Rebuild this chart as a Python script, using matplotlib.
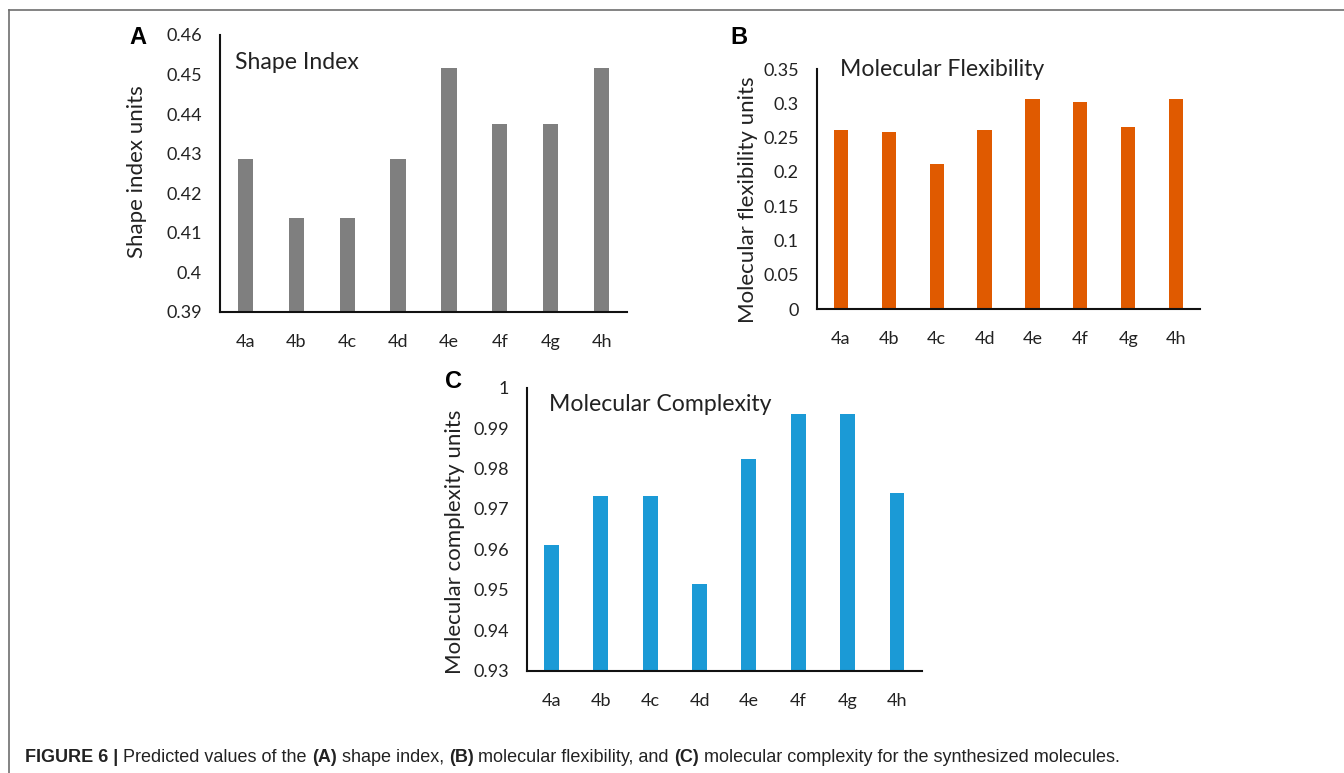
import matplotlib
matplotlib.use("Agg")
import matplotlib.pyplot as plt
from matplotlib.lines import Line2D

# data
compounds = ["4a", "4b", "4c", "4d", "4e", "4f", "4g", "4h"]
shape_index = [0.4286, 0.4138, 0.4138, 0.4286, 0.4516, 0.4375, 0.4375, 0.4516]
flexibility = [0.2615, 0.2577, 0.2119, 0.2615, 0.3063, 0.3019, 0.2650, 0.3063]
complexity = [0.9610, 0.9733, 0.9733, 0.9515, 0.9823, 0.9936, 0.9936, 0.9740]

ticks_a = [0.39, 0.40, 0.41, 0.42, 0.43, 0.44, 0.45, 0.46]
ticklabels_a = ["0.39", "0.4", "0.41", "0.42", "0.43", "0.44", "0.45", "0.46"]
ticks_b = [0, 0.05, 0.1, 0.15, 0.2, 0.25, 0.3, 0.35]
ticklabels_b = ["0", "0.05", "0.1", "0.15", "0.2", "0.25", "0.3", "0.35"]
ticks_c = [0.93, 0.94, 0.95, 0.96, 0.97, 0.98, 0.99, 1.0]
ticklabels_c = ["0.93", "0.94", "0.95", "0.96", "0.97", "0.98", "0.99", "1"]

W, H = 1344, 773
fig = plt.figure(figsize=(W / 100, H / 100), dpi=100)
fig.patch.set_facecolor("white")

FONT = "Lato"


def panel(rect, values, color, ticks, ticklabels, ylabel, title, title_xy, ylab_xy):
    ax = fig.add_axes(rect)
    x = range(len(compounds))
    ax.bar(x, values, width=0.3, color=color, zorder=2)
    ax.set_xlim(-0.5, len(compounds) - 0.5)
    ax.set_ylim(ticks[0], ticks[-1])
    ax.set_xticks(list(x))
    ax.set_xticklabels(compounds, fontfamily=FONT, fontsize=13, color="#222222")
    ax.set_yticks(ticks)
    ax.set_yticklabels(ticklabels, fontfamily=FONT, fontsize=13, color="#222222")
    ax.tick_params(axis="x", length=0, pad=16)
    ax.tick_params(axis="y", length=0, pad=13)
    for s in ["top", "right"]:
        ax.spines[s].set_visible(False)
    for s in ["left", "bottom"]:
        ax.spines[s].set_linewidth(1.5)
        ax.spines[s].set_color("#111111")
    ax.set_ylabel(ylabel, fontfamily=FONT, fontsize=16, color="#222222")
    ax.yaxis.set_label_coords(*ylab_xy)
    ax.text(title_xy[0], title_xy[1], title, transform=ax.transAxes,
            fontfamily=FONT, fontsize=16.6, color="#222222", ha="left", va="center")
    return ax


panel([220 / W, 1 - 312 / H, 407 / W, 277 / H], shape_index, "#7f7f7f",
      ticks_a, ticklabels_a, "Shape index units", "Shape Index",
      (0.037, 0.899), (-0.179, 0.505))
panel([817 / W, 1 - 309 / H, 383 / W, 240 / H], flexibility, "#e05a00",
      ticks_b, ticklabels_b, "Molecular flexibility units", "Molecular Flexibility",
      (0.060, 0.996), (-0.154, 0.454))
panel([526.7 / W, 1 - 670.7 / H, 395 / W, 283 / H], complexity, "#1b9ad6",
      ticks_c, ticklabels_c, "Molecular complexity units", "Molecular Complexity",
      (0.057, 0.939), (-0.156, 0.4565))

# panel letters
for letter, px, py in [("A", 137.5, 37.5), ("B", 739, 38), ("C", 453, 381)]:
    fig.text(px / W, 1 - py / H, letter, fontfamily="Liberation Sans",
             fontweight="bold", fontsize=17, ha="center", va="center")

# frame lines (top and left only)
fig.add_artist(Line2D([9 / W, 1], [1 - 10 / H, 1 - 10 / H], color="#6e6e6e", lw=1.2))
fig.add_artist(Line2D([9 / W, 9 / W], [1 - 10 / H, 0], color="#6e6e6e", lw=1.2))

# caption with mixed bold pieces
pieces = [("FIGURE 6 | ", "bold"), ("Predicted values of the ", "normal"),
          ("(A)", "bold"), (" shape index, ", "normal"), ("(B)", "bold"),
          (" molecular flexibility, and ", "normal"), ("(C)", "bold"),
          (" molecular complexity for the synthesized molecules.", "normal")]
renderer = fig.canvas.get_renderer()
xpos = 25
for txt, wt in pieces:
    t = fig.text(xpos / W, 1 - 762 / H, txt, fontfamily="Liberation Sans",
                 fontweight=wt, fontsize=13, color="#222222",
                 ha="left", va="baseline")
    bb = t.get_window_extent(renderer=renderer)
    xpos += bb.width

fig.savefig("out.png", dpi=100, facecolor="white")
